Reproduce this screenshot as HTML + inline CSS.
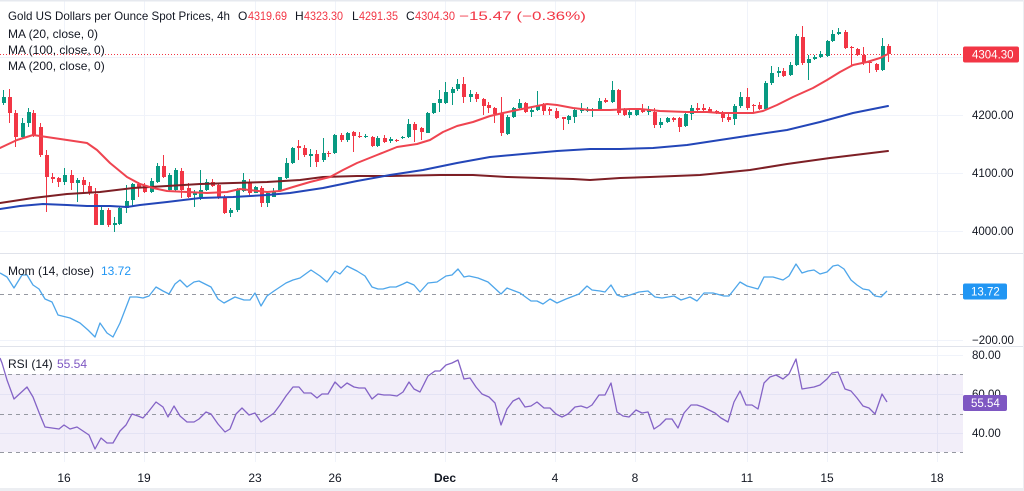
<!DOCTYPE html>
<html><head><meta charset="utf-8"><style>
html,body{margin:0;padding:0;background:#fff;}
body{width:1024px;height:491px;overflow:hidden;}
svg{display:block;font-family:"Liberation Sans",Arial,sans-serif;}
</style></head><body>
<svg width="1024" height="491" viewBox="0 0 1024 491" xmlns="http://www.w3.org/2000/svg">
<rect x="0" y="0" width="1024" height="491" fill="#fff"/>
<!-- grid -->
<g stroke="#f0f3fa" stroke-width="1">
<path d="M64.5 0V462M144.5 0V462M255.5 0V462M335.5 0V462M445.5 0V462M555.5 0V462M635.5 0V462M747.5 0V462M827.5 0V462M937.5 0V462"/>
<path d="M0 57.5H963M0 115.5H963M0 173.5H963M0 231.5H963M0 340.5H963M0 355.5H963M0 394.5H963M0 433.5H963"/>
</g>
<!-- pane separators -->
<path d="M0 253.5H1024M0 346.5H1024" stroke="#e0e3eb" stroke-width="1"/>
<!-- RSI band -->
<rect x="0" y="374" width="963" height="78" fill="#7e57c2" fill-opacity="0.1"/>
<g stroke="#9598a1" stroke-width="1" stroke-dasharray="4,4">
<path d="M0 294.5H963M0 374.5H963M0 414.5H963M0 452.5H963"/>
</g>
<!-- price line -->
<path d="M0 54.5H963" stroke="#f23645" stroke-width="1" stroke-dasharray="1,2"/>
<!-- candles green -->
<path stroke="#089981" stroke-width="1" fill="none" d="M3.5 90V105M22.5 118V138M28.5 108V127M64.5 168V185M77.5 178V202M101.5 207V225M114.5 217V232M119.5 207V225M126.5 185V213M132.5 183V207M151.5 178V193M157.5 163V183M169.5 173V192M175.5 168V192M194.5 190V207M200.5 170V200M206.5 179V191M230.5 208V217M237.5 188V212M243.5 173V192M255.5 186V193M267.5 192V207M273.5 188V197M279.5 177V192M286.5 158V179M292.5 147V164M310.5 149V167M323.5 138V162M334.5 134V154M347.5 132V142M365.5 134V138M377.5 136V147M390.5 137V143M402.5 136V139M408.5 119V138M427.5 112V133M433.5 103V114M439.5 90V112M445.5 82V104M452.5 87V105M457.5 79V91M470.5 90V102M507.5 115V135M513.5 107V118M519.5 99V110M531.5 108V117M537.5 91V111M568.5 115V124M574.5 108V123M581.5 103V113M587.5 107V112M592.5 108V117M599.5 98V111M612.5 81V103M629.5 109V118M636.5 108V116M648.5 106V115M660.5 118V128M667.5 117V123M685.5 113V127M691.5 105V120M734.5 104V125M740.5 92V108M765.5 81V110M771.5 66V85M778.5 67V77M790.5 62V76M796.5 34V66M808.5 55V80M814.5 55V60M820.5 51V58M827.5 40V57M832.5 30V42M838.5 28V35M882.5 38V71"/>
<path fill="#089981" d="M2 97h4v6h-4zM21 123h4v14h-4zM27 112h4v11h-4zM63 175h4v7h-4zM76 180h4v3h-4zM100 210h4v15h-4zM113 223h4v2h-4zM118 208h4v16h-4zM125 201h4v7h-4zM131 184h4v16h-4zM150 181h4v11h-4zM156 166h4v16h-4zM168 175h4v15h-4zM174 170h4v20h-4zM193 193h4v2h-4zM199 190h4v7h-4zM205 182h4v8h-4zM229 210h4v3h-4zM236 190h4v20h-4zM242 180h4v11h-4zM254 187h4v6h-4zM266 193h4v10h-4zM272 191h4v6h-4zM278 177h4v14h-4zM285 163h4v15h-4zM291 148h4v15h-4zM309 154h4v2h-4zM322 153h4v7h-4zM333 135h4v18h-4zM346 133h4v7h-4zM364 136h4v1h-4zM376 138h4v8h-4zM389 139h4v2h-4zM401 137h4v1h-4zM407 124h4v13h-4zM426 113h4v20h-4zM432 103h4v10h-4zM438 99h4v4h-4zM444 92h4v11h-4zM451 89h4v4h-4zM456 84h4v5h-4zM469 94h4v3h-4zM506 117h4v17h-4zM512 108h4v9h-4zM518 103h4v5h-4zM530 110h4v2h-4zM536 106h4v4h-4zM567 116h4v4h-4zM573 110h4v7h-4zM580 109h4v2h-4zM586 109h4v2h-4zM591 109h4v2h-4zM598 101h4v9h-4zM611 90h4v12h-4zM628 112h4v3h-4zM635 109h4v6h-4zM647 110h4v2h-4zM659 122h4v3h-4zM666 118h4v4h-4zM684 114h4v12h-4zM690 108h4v6h-4zM733 106h4v13h-4zM739 97h4v9h-4zM764 83h4v26h-4zM770 73h4v10h-4zM777 71h4v2h-4zM789 65h4v10h-4zM795 36h4v29h-4zM807 59h4v4h-4zM813 57h4v2h-4zM819 54h4v3h-4zM826 41h4v15h-4zM831 34h4v7h-4zM837 32h4v2h-4zM881 46h4v24h-4z"/>
<!-- candles red -->
<path stroke="#f23645" stroke-width="1" fill="none" d="M9.5 89V123M15.5 110V147M33.5 110V137M40.5 123V157M46.5 150V212M52.5 173V183M58.5 177V187M71.5 170V190M83.5 177V193M89.5 182V195M95.5 188V225M108.5 208V227M138.5 182V197M144.5 183V193M163.5 155V178M181.5 168V198M188.5 183V198M212.5 179V187M218.5 184V199M224.5 195V214M249.5 179V195M261.5 186V207M298.5 140V160M304.5 145V157M316.5 150V167M328.5 151V157M341.5 133V142M353.5 131V152M359.5 132V138M372.5 136V147M384.5 135V143M396.5 139V142M414.5 122V142M421.5 127V140M463.5 77V103M476.5 92V102M483.5 98V115M488.5 102V113M494.5 107V123M501.5 97V136M525.5 102V113M543.5 103V115M549.5 107V115M556.5 108V119M563.5 117V130M605.5 98V103M618.5 89V115M624.5 108V116M642.5 104V113M654.5 108V128M673.5 117V122M679.5 117V132M697.5 103V113M703.5 104V112M709.5 107V112M716.5 110V114M722.5 111V122M728.5 113V122M747.5 88V110M753.5 104V112M759.5 102V110M783.5 68V77M802.5 26V65M845.5 30V49M851.5 46V65M857.5 48V56M863.5 47V65M869.5 61V73M876.5 63V72M888.5 44V62"/>
<path fill="#f23645" d="M8 97h4v16h-4zM14 113h4v24h-4zM32 113h4v22h-4zM39 127h4v28h-4zM45 155h4v22h-4zM51 177h4v2h-4zM57 178h4v4h-4zM70 175h4v8h-4zM82 180h4v5h-4zM88 186h4v7h-4zM94 194h4v31h-4zM107 210h4v15h-4zM137 184h4v4h-4zM143 185h4v7h-4zM162 166h4v11h-4zM180 171h4v19h-4zM187 188h4v9h-4zM211 182h4v4h-4zM217 185h4v13h-4zM223 197h4v16h-4zM248 182h4v11h-4zM260 188h4v15h-4zM297 146h4v2h-4zM303 148h4v7h-4zM315 154h4v8h-4zM327 153h4v1h-4zM340 135h4v5h-4zM352 132h4v4h-4zM358 136h4v1h-4zM371 137h4v9h-4zM383 138h4v4h-4zM395 140h4v1h-4zM413 124h4v6h-4zM420 128h4v4h-4zM462 84h4v13h-4zM475 94h4v5h-4zM482 99h4v7h-4zM487 105h4v3h-4zM493 108h4v6h-4zM500 113h4v20h-4zM524 103h4v9h-4zM542 105h4v6h-4zM548 109h4v2h-4zM555 111h4v7h-4zM562 117h4v2h-4zM604 100h4v2h-4zM617 90h4v23h-4zM623 110h4v5h-4zM641 109h4v3h-4zM653 112h4v13h-4zM672 118h4v2h-4zM678 118h4v9h-4zM696 108h4v2h-4zM702 108h4v2h-4zM708 109h4v3h-4zM715 111h4v2h-4zM721 113h4v5h-4zM727 117h4v3h-4zM746 97h4v11h-4zM752 105h4v1h-4zM758 105h4v4h-4zM782 71h4v5h-4zM801 37h4v26h-4zM844 32h4v16h-4zM850 47h4v1h-4zM856 49h4v6h-4zM862 55h4v8h-4zM868 62h4v1h-4zM875 64h4v6h-4zM887 46h4v8h-4z"/>
<!-- MAs -->
<g fill="none" stroke-width="2" stroke-linejoin="round" stroke-linecap="round">
<polyline stroke="#7d1f25" points="0,203 33,198 67,194 100,192 133,188 167,186 200,184 233,183 267,182 300,180 323,177 357,176 390,176 440,175 473,175 507,177 540,178 573,179 590,180 620,178 650,177 700,175 750,170 787,164 830,158 888,151"/>
<polyline stroke="#2346b8" points="0,209 20,206 43,204 67,205 87,206 110,206 127,207 140,205 167,202 200,198 233,197 267,195 290,193 323,188 357,181 390,175 423,170 457,163 490,157 523,154 557,151 590,149 620,149 653,148 687,145 720,140 753,135 787,130 820,122 853,113 888,106"/>
<polyline stroke="#ef4450" points="0,148 17,140 33,135 40,136 67,140 87,143 97,150 110,163 127,177 140,184 153,188 167,191 187,192 207,193 227,192 240,189 267,192 280,191 293,187 310,182 330,177 343,170 357,163 377,155 397,147 417,144 430,140 443,132 457,126 473,122 490,116 503,113 517,110 537,106 547,104 557,105 573,108 590,110 610,110 630,109 640,109 660,111 687,112 707,112 720,113 733,113 753,113 763,111 777,105 793,97 813,88 827,80 840,72 853,65 867,62 880,58 888,54"/>
</g>
<!-- Momentum -->
<polyline fill="none" stroke="#4ea6ea" stroke-width="1.3" stroke-linejoin="round" points="0,273 7,277 14,288 22,275 27,275 33,285 39,289 45,299 52,302 58,315 70,318 80,323 88,330 95,337 100,323 107,333 113,337 120,323 130,297 137,297 143,298 149,296 156,287 163,291 169,294 175,284 180,280 187,287 194,282 199,281 205,284 211,287 218,299 224,303 235,297 244,300 250,300 255,293 261,306 267,296 274,291 286,283 293,280 300,278 311,270 320,276 327,282 335,271 340,274 347,266 357,271 365,276 372,287 378,289 383,289 390,287 396,287 403,284 407,282 414,285 420,292 428,283 437,282 446,276 452,275 458,269 464,277 469,276 478,278 488,282 501,294 507,288 520,293 531,301 537,301 543,304 550,299 557,303 566,299 579,294 587,286 592,290 600,291 605,292 611,285 617,295 623,297 630,295 639,292 648,291 655,297 662,298 674,296 681,300 690,297 697,301 704,293 713,293 724,296 729,296 740,282 747,286 758,289 764,277 773,277 783,280 789,276 796,264 802,273 808,271 814,270 820,274 827,272 833,266 838,265 844,269 851,280 857,285 863,289 869,290 875,296 881,297 887,291"/>
<!-- RSI -->
<polyline fill="none" stroke="#8463c6" stroke-width="1.3" stroke-linejoin="round" points="0,358 2,363 7,380 14,399 27,387 33,397 40,415 45,427 52,428 59,429 64,425 70,429 77,427 83,431 89,435 95,449 101,438 107,443 113,443 120,431 126,425 132,414 138,416 143,418 149,411 156,402 163,407 168,417 174,406 180,416 187,422 194,422 199,419 206,412 211,414 218,424 225,432 230,429 236,414 242,408 249,415 255,413 261,422 267,418 274,413 280,405 286,396 293,387 299,387 304,393 311,393 317,398 322,394 328,394 335,382 341,388 347,383 354,387 359,388 365,388 372,399 378,394 384,395 390,395 397,396 403,392 409,382 414,389 420,392 428,376 435,371 440,371 446,365 452,363 458,360 464,379 470,378 476,387 482,394 489,397 495,403 501,425 507,409 513,401 519,398 525,407 531,406 537,402 544,408 550,408 556,414 562,417 568,414 575,407 581,406 587,408 592,405 599,395 605,395 611,383 617,412 623,416 629,417 636,410 642,413 648,412 654,429 660,425 666,419 672,419 678,428 684,413 691,405 697,405 703,407 709,410 715,413 721,418 728,422 734,402 740,391 746,405 752,405 758,409 764,383 770,377 776,375 783,379 789,374 796,359 802,389 808,388 814,387 820,385 827,379 832,373 838,372 845,389 851,391 857,398 863,406 869,408 875,414 882,394 887,402"/>
<!-- legends -->
<g font-size="12" fill="#131722">
<text x="8" y="20" textLength="222" lengthAdjust="spacingAndGlyphs">Gold US Dollars per Ounce Spot Prices, 4h</text>
<text x="238" y="20">O</text><text x="248" y="20" fill="#f23645" textLength="39" lengthAdjust="spacingAndGlyphs">4319.69</text>
<text x="295" y="20">H</text><text x="304" y="20" fill="#f23645" textLength="39" lengthAdjust="spacingAndGlyphs">4323.30</text>
<text x="352" y="20">L</text><text x="359" y="20" fill="#f23645" textLength="39" lengthAdjust="spacingAndGlyphs">4291.35</text>
<text x="406" y="20">C</text><text x="415" y="20" fill="#f23645" textLength="40" lengthAdjust="spacingAndGlyphs">4304.30</text>
<text x="459" y="20" fill="#f23645" textLength="127" lengthAdjust="spacingAndGlyphs">−15.47 (−0.36%)</text>
<text x="8" y="38">MA (20, close, 0)</text>
<text x="8" y="54">MA (100, close, 0)</text>
<text x="8" y="70">MA (200, close, 0)</text>
<text x="8" y="275">Mom (14, close)</text>
<text x="101" y="275" fill="#2196f3">13.72</text>
<text x="8" y="368">RSI (14)</text>
<text x="57" y="368" fill="#7e57c2">55.54</text>
</g>
<!-- right axis -->
<g font-size="11.5" fill="#131722">
<text x="972" y="119">4200.00</text>
<text x="972" y="177">4100.00</text>
<text x="972" y="235">4000.00</text>
<text x="972" y="344">−200.00</text>
<text x="972" y="359">80.00</text>
<text x="972" y="398">60.00</text>
<text x="972" y="437">40.00</text>
</g>
<rect x="963" y="46.5" width="56" height="16" rx="2" fill="#f23645"/>
<text x="972" y="58.5" font-size="11.5" fill="#fff">4304.30</text>
<rect x="963" y="283.5" width="44" height="16" rx="2" fill="#2196f3"/>
<text x="971" y="295.5" font-size="11.5" fill="#fff">13.72</text>
<rect x="963" y="395" width="44" height="16" rx="2" fill="#7e57c2"/>
<text x="971" y="407" font-size="11.5" fill="#fff">55.54</text>
<!-- x axis -->
<g font-size="12" fill="#131722" text-anchor="middle">
<text x="64" y="482">16</text>
<text x="144" y="482">19</text>
<text x="255" y="482">23</text>
<text x="335" y="482">26</text>
<text x="445" y="482" font-weight="bold">Dec</text>
<text x="555" y="482">4</text>
<text x="635" y="482">8</text>
<text x="747" y="482">11</text>
<text x="827" y="482">15</text>
<text x="937" y="482">18</text>
</g>
<!-- frame -->
<rect x="0" y="0" width="1024" height="1.5" fill="#e6e9ef"/>
<rect x="0" y="488" width="1024" height="3" fill="#eceef2"/>
<rect x="1023" y="0" width="1" height="491" fill="#eceef2"/>
</svg>
</body></html>
